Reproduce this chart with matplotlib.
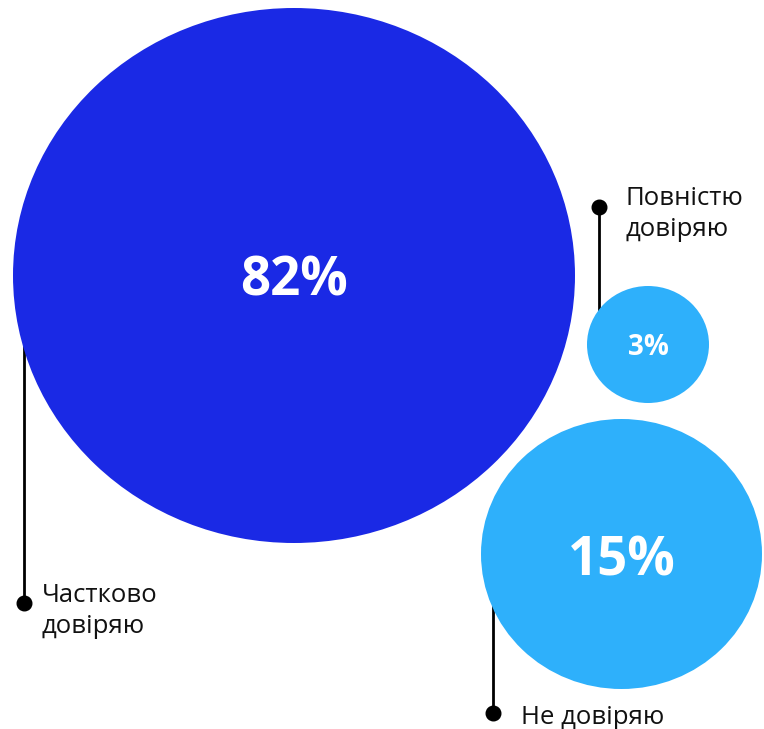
import matplotlib.pyplot as plt
from matplotlib.patches import Ellipse

# data
labels = ['Частково\nдовіряю', 'Повністю\nдовіряю', 'Не довіряю']
values = [82, 3, 15]
colors = ['#1A29E5', '#2EB0FB', '#2EB0FB']

# layout in pixel coords (x, y from top-left)
centers = [(294, 275.5), (648, 344.5), (621.5, 554)]
sizes = [(562, 535), (122, 117), (281, 270)]
pct_size = [38, 20, 38]
pct_shift = [6, 3, 7]
dots = [(24, 603), (599, 207), (493, 713)]
line_ends = [(24, 320), (599, 340), (493, 560)]
text_pos = [(42, 611), (625, 214), (521, 718)]

plt.rcParams['font.family'] = ['Open Sans', 'DejaVu Sans']

fig = plt.figure(figsize=(7.64, 7.29), dpi=100)
ax = fig.add_axes([0, 0, 1, 1])
ax.set_xlim(0, 764)
ax.set_ylim(729, 0)
ax.axis('off')

for i in range(len(values)):
    # leader line + dot (under the circles)
    ax.plot([dots[i][0], line_ends[i][0]], [dots[i][1], line_ends[i][1]],
            color='black', lw=2, zorder=1, solid_capstyle='butt')
    ax.plot(dots[i][0], dots[i][1], 'o', color='black', markersize=10.5, zorder=1)
    e = Ellipse(centers[i], sizes[i][0], sizes[i][1], color=colors[i], lw=0, zorder=2)
    ax.add_patch(e)
    ax.text(centers[i][0], centers[i][1] + pct_shift[i], str(values[i]) + '%', color='white',
            fontsize=pct_size[i], fontweight='bold', ha='center', va='center', zorder=3)
    ax.text(text_pos[i][0], text_pos[i][1], labels[i], fontsize=18.5, color='#111111',
            ha='left', va='center', linespacing=1.36, zorder=3)

fig.savefig('out.png', dpi=100)
